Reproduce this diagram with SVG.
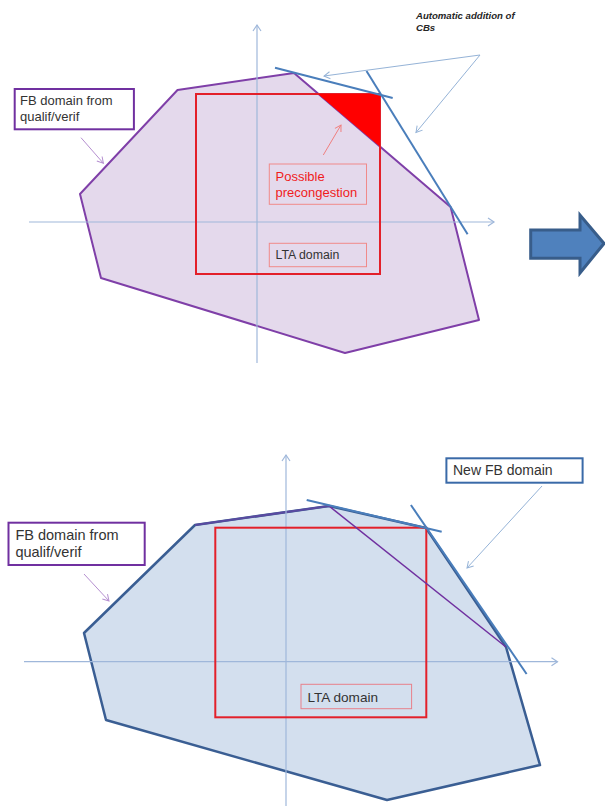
<svg xmlns="http://www.w3.org/2000/svg" width="605" height="806" viewBox="0 0 605 806">
<style>
.axis{stroke:#9fb7da;stroke-width:1.2;fill:none}
.cb{stroke:#4a7ebb;stroke-width:2;fill:none}
.note{stroke:#95b3d7;stroke-width:1;fill:none}
.lta{stroke:#e3202a;stroke-width:2;fill:none}
.txt{font-family:"Liberation Sans",Arial,sans-serif;fill:#333}
.lab{fill:#fff;stroke:#7030a0;stroke-width:2}
</style>
<defs>
<marker id="ax" markerWidth="10" markerHeight="10" refX="7" refY="5" orient="auto" markerUnits="userSpaceOnUse">
<path d="M1,1 L7,5 L1,9" fill="none" stroke="#9fb7da" stroke-width="1.2"/>
</marker>
<marker id="nb" markerWidth="10" markerHeight="10" refX="7" refY="5" orient="auto" markerUnits="userSpaceOnUse">
<path d="M1,1.5 L7,5 L1,8.5" fill="none" stroke="#95b3d7" stroke-width="1"/>
</marker>
<marker id="np" markerWidth="10" markerHeight="10" refX="7" refY="5" orient="auto" markerUnits="userSpaceOnUse">
<path d="M1,1.5 L7,5 L1,8.5" fill="none" stroke="#b58fd0" stroke-width="1"/>
</marker>
<marker id="nr" markerWidth="10" markerHeight="10" refX="7" refY="5" orient="auto" markerUnits="userSpaceOnUse">
<path d="M1,1.5 L7,5 L1,8.5" fill="none" stroke="#f07f7f" stroke-width="1"/>
</marker>
</defs>

<!-- TOP DIAGRAM -->
<g id="top-fb-domain">
<polygon points="80,194 177.5,90 294,73 450.6,207 479,320 345,353 101,278" fill="#e4d9ec" stroke="#7f3fa8" stroke-width="2" stroke-linejoin="round"/>
</g>
<g id="top-axes">
<line class="axis" x1="257" y1="363" x2="257" y2="25" marker-end="url(#ax)"/>
<line class="axis" x1="29" y1="222" x2="494" y2="222" marker-end="url(#ax)"/>
</g>
<g id="top-lta">
<rect class="lta" x="196" y="94" width="184" height="180"/>
</g>
<g id="top-precongestion-area">
<polygon points="318,94 380,94 380,146.7" fill="#ff0000"/>
</g>
<g id="top-cb-lines">
<line class="cb" x1="275" y1="67.7" x2="392.7" y2="98"/>
<line class="cb" x1="366.5" y1="71" x2="467.6" y2="234.3"/>
</g>
<g id="connectors-top">
<line class="note" x1="480" y1="55" x2="324" y2="76" marker-end="url(#nb)"/>
<line class="note" x1="480" y1="55" x2="416" y2="132.5" marker-end="url(#nb)"/>
<line x1="81" y1="137.7" x2="103.4" y2="163.3" stroke="#b58fd0" stroke-width="1" marker-end="url(#np)"/>
<line x1="323.3" y1="155" x2="341" y2="125" stroke="#f07f7f" stroke-width="1" marker-end="url(#nr)"/>
</g>
<g id="top-auto-label">
<text class="txt" x="416" y="18.5" font-size="9.6" font-weight="bold" font-style="italic" fill="#262626" style="fill:#262626">Automatic addition of</text>
<text class="txt" x="416" y="31" font-size="9.6" font-weight="bold" font-style="italic" style="fill:#262626">CBs</text>
</g>
<g id="top-fb-label">
<rect class="lab" x="14.7" y="89" width="119.2" height="40.3"/>
<text class="txt" x="20" y="105" font-size="13">FB domain from</text>
<text class="txt" x="20" y="121" font-size="13">qualif/verif</text>
</g>
<g id="top-precongestion-label">
<rect x="269.3" y="164" width="97.2" height="40.3" fill="none" stroke="#f08a8a" stroke-width="1"/>
<text class="txt" x="275.5" y="180.5" font-size="13" style="fill:#f01c1c">Possible</text>
<text class="txt" x="275.5" y="197" font-size="13" style="fill:#f01c1c">precongestion</text>
</g>
<g id="top-lta-label">
<rect x="269.3" y="243.3" width="97.2" height="23.4" fill="none" stroke="#f08a8a" stroke-width="1"/>
<text class="txt" x="275.5" y="259" font-size="12.3">LTA domain</text>
</g>

<!-- BLOCK ARROW -->
<g id="transition-arrow">
<polygon points="530.7,230 580,230 580,215 604,243.5 580,273 580,258.3 530.7,258.3" fill="#4f81bd" stroke="#385d8a" stroke-width="3" stroke-linejoin="miter"/>
</g>

<!-- BOTTOM DIAGRAM -->
<g id="bottom-fb-domain">
<polygon points="84,633 195,525 329,506 426,528 506,647 540,765 387,800 106,720" fill="#d3dfee" stroke="#3a5e93" stroke-width="2.5" stroke-linejoin="round"/>
<line x1="195" y1="525" x2="329" y2="506" stroke="#5a4aa0" stroke-width="2"/>
</g>
<g id="bottom-axes">
<line class="axis" x1="286" y1="806" x2="286" y2="455" marker-end="url(#ax)"/>
<line class="axis" x1="24" y1="661.7" x2="557.5" y2="661.7" marker-end="url(#ax)"/>
</g>
<g id="bottom-lta">
<rect class="lta" x="215.3" y="527.7" width="211" height="189.6"/>
</g>
<g id="bottom-old-edge">
<line x1="329" y1="506" x2="506" y2="647" stroke="#7030a0" stroke-width="1.5"/>
</g>
<g id="bottom-cb-lines">
<line class="cb" x1="306.7" y1="500" x2="441.7" y2="531.7"/>
<line class="cb" x1="410.9" y1="505" x2="526.6" y2="674"/>
</g>
<g id="connectors-bottom">
<line class="note" x1="542" y1="486" x2="467" y2="568" marker-end="url(#nb)"/>
<line x1="84" y1="574" x2="109" y2="601" stroke="#b58fd0" stroke-width="1" marker-end="url(#np)"/>
</g>
<g id="bottom-new-fb-label">
<rect x="446.4" y="458.3" width="136.2" height="24.4" fill="#fff" stroke="#3a6aa8" stroke-width="2"/>
<text class="txt" x="453" y="475" font-size="14">New FB domain</text>
</g>
<g id="bottom-fb-label">
<rect class="lab" x="8.5" y="522.7" width="136.2" height="42.3"/>
<text class="txt" x="15.4" y="539.5" font-size="14.5">FB domain from</text>
<text class="txt" x="15.4" y="557" font-size="14.5">qualif/verif</text>
</g>
<g id="bottom-lta-label">
<rect x="301" y="684.3" width="110.6" height="24.4" fill="none" stroke="#e8808a" stroke-width="1"/>
<text class="txt" x="307.5" y="701.5" font-size="13.6">LTA domain</text>
</g>
</svg>
